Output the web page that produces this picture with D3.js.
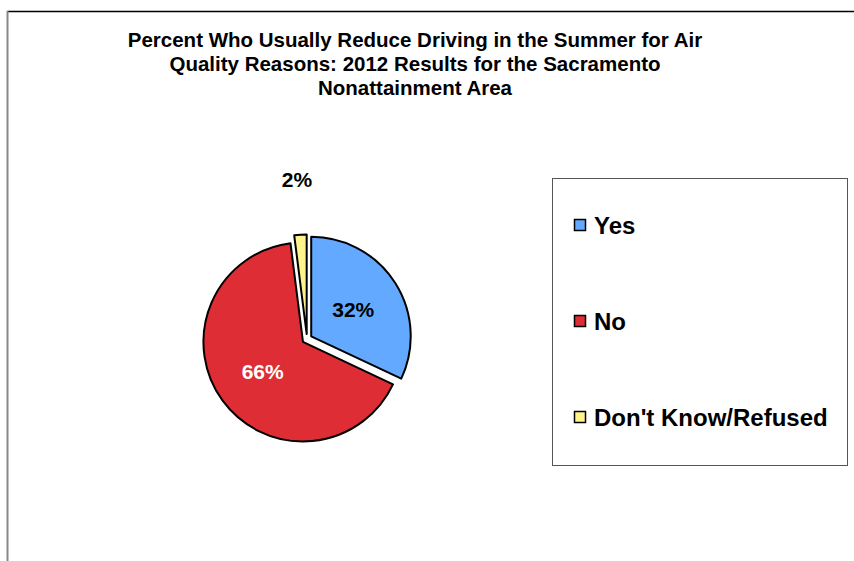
<!DOCTYPE html>
<html>
<head>
<meta charset="utf-8">
<script src="https://cdn.jsdelivr.net/npm/d3@7"></script>
<style>
  html, body { margin: 0; padding: 0; background: #fff; }
  svg { display: block; }
  text { font-family: "Liberation Sans", Arial, sans-serif; font-weight: bold; }
</style>
</head>
<body>
<svg id="chart" width="854" height="561"></svg>
<script>
// Survey responses, percent of respondents
const categories = ["Yes", "No", "Don't Know/Refused"];
const values = [32, 66, 2];
const colors = ["#63A9FF", "#DE2D34", "#FFF38C"];
const labelColors = ["#000", "#fff", "#000"];
const titleLines = [
  "Percent Who Usually Reduce Driving in the Summer for Air",
  "Quality Reasons: 2012 Results for the Sacramento",
  "Nonattainment Area"
];

const svg = d3.select("#chart");

// outer frame (top and left edges visible)
svg.append("line").attr("x1", 7).attr("y1", 11.5).attr("x2", 854).attr("y2", 11.5)
  .attr("stroke", "#000").attr("stroke-width", 1.5);
svg.append("line").attr("x1", 7.5).attr("y1", 11).attr("x2", 7.5).attr("y2", 561)
  .attr("stroke", "#888").attr("stroke-width", 2);

// title
svg.append("g").selectAll("text").data(titleLines).join("text")
  .attr("x", 415).attr("y", (d, i) => 47 + i * 24)
  .attr("text-anchor", "middle").attr("font-size", 20.5).attr("fill", "#000")
  .text(d => d);

// pie
const cx = 307, cy = 339, r = 99.5, explode = 5;
const pie = d3.pie().sort(null).value(d => d)(values);
const arc = d3.arc().innerRadius(0).outerRadius(r);
const g = svg.append("g").attr("transform", `translate(${cx},${cy})`);

const slices = g.selectAll("g.slice").data(pie).join("g").attr("class", "slice")
  .attr("transform", d => {
    const a = (d.startAngle + d.endAngle) / 2;
    return `translate(${Math.sin(a) * explode},${-Math.cos(a) * explode})`;
  });
slices.append("path").attr("d", arc)
  .attr("fill", (d, i) => colors[i])
  .attr("stroke", "#000").attr("stroke-width", 2).attr("stroke-linejoin", "round");

// value labels: inside for large slices, outside for the small one
const labelArc = d3.arc().innerRadius(r * 0.5).outerRadius(r * 0.5);
const outerArc = d3.arc().innerRadius(r * 1.56).outerRadius(r * 1.56);
slices.append("text")
  .attr("transform", (d, i) => {
    const p = values[i] < 5 ? outerArc.centroid(d) : labelArc.centroid(d);
    return `translate(${p[0]},${p[1]})`;
  })
  .attr("text-anchor", "middle").attr("dy", "0.36em")
  .attr("font-size", 21)
  .attr("fill", (d, i) => labelColors[i])
  .text((d, i) => values[i] + "%");

// legend
const legend = svg.append("g");
legend.append("rect").attr("x", 552.5).attr("y", 178.5).attr("width", 295).attr("height", 287)
  .attr("fill", "#fff").attr("stroke", "#555").attr("stroke-width", 1);
const items = legend.selectAll("g.item").data(categories).join("g").attr("class", "item")
  .attr("transform", (d, i) => `translate(574,${225 + i * 96})`);
items.append("rect").attr("x", 0.5).attr("y", -5.5).attr("width", 11).attr("height", 11)
  .attr("fill", (d, i) => colors[i]).attr("stroke", "#000").attr("stroke-width", 1.5);
items.append("text").attr("x", 20).attr("y", 9).attr("font-size", 24).attr("fill", "#000")
  .text(d => d);
</script>
</body>
</html>
